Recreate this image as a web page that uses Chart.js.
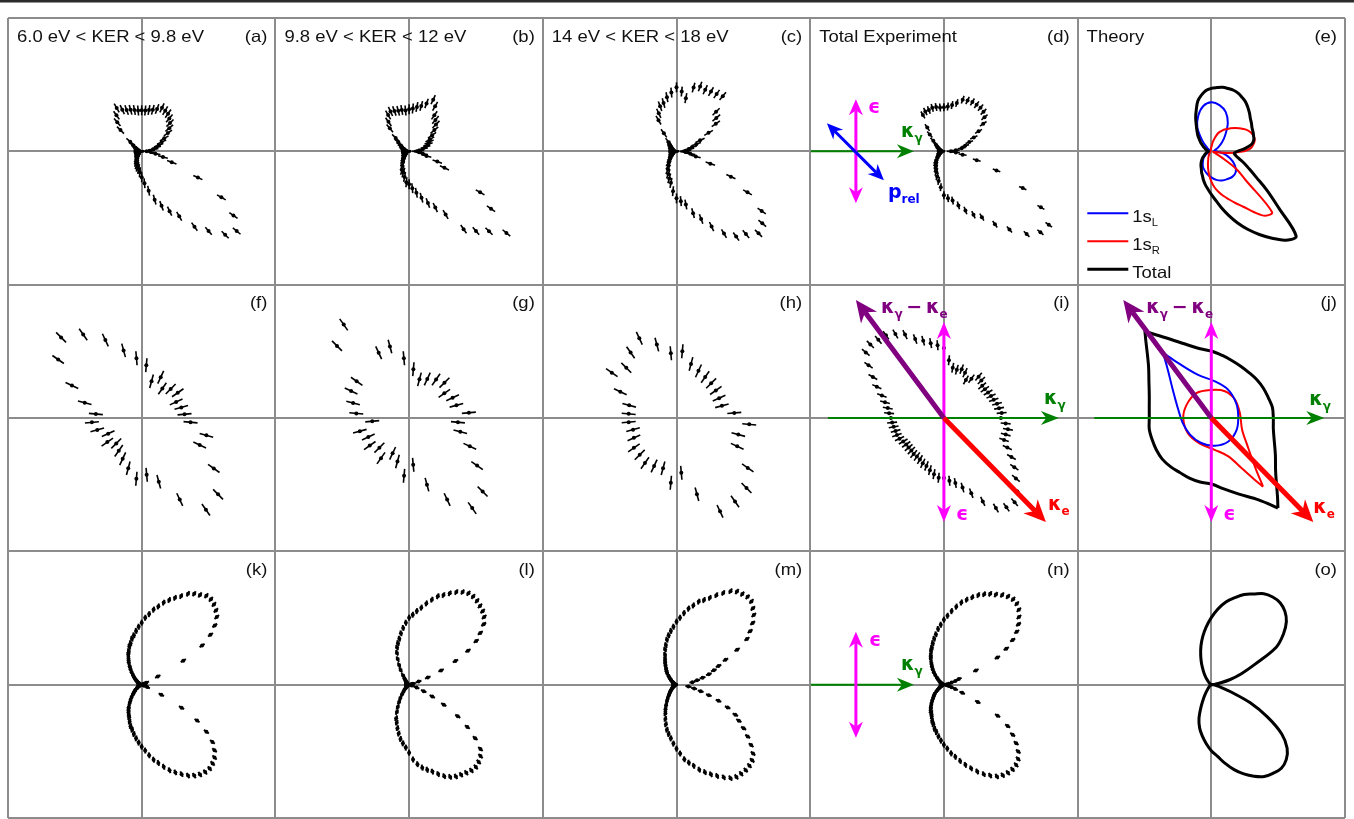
<!DOCTYPE html>
<html>
<head>
<meta charset="utf-8">
<script src="https://cdn.jsdelivr.net/npm/chart.js@4.4.0/dist/chart.umd.min.js"></script>
<style>
  html, body { margin: 0; padding: 0; background: #fff; overflow: hidden; }
  #fig { display: block; width: 1354px; height: 819px; }
</style>
</head>
<body>
<canvas id="fig" width="1354" height="819"></canvas>
<script>
// Angles in degrees, counter-clockwise from the +x direction (photon axis)
const anglesFine = [0,5,10,15,20,25,30,35,40,45,50,55,60,65,70,75,80,85,90,95,100,105,110,115,120,125,130,135,140,145,150,155,160,165,170,175,
  180,185,190,195,200,205,210,215,220,225,230,235,240,245,250,255,260,265,270,275,280,285,290,295,300,305,310,315,320,325,330,335,340,345,350,355];
const anglesCoarse = [5,15,25,35,45,55,65,75,85,95,105,115,125,135,145,155,165,175,185,195,205,215,225,235,245,255,265,275,285,295,305,315,325,335,345,355];
const angles10 = [0,10,20,30,40,50,60,70,80,90,100,110,120,130,140,150,160,170,180,190,200,210,220,230,240,250,260,270,280,290,300,310,320,330,340,350];
const anglesLobe = [9,12,15,18,21,24,27,30,33,36,39,42,45,48,51,54,57,60,63,66,69,72,75,78,81,84,87,90,93,96,99,102,105,108,111,114,117,120,123,126,129,132,135,138,141,144,147,150,153,156,159,162,165,168,171];

// Row 1 experiment (radius, half panel = 133.5)
const rA = [5,8,12,15,18,22,26,32,36,40,43,46,47,48,45,43,42,41,41,41,42,43,44,46,50,44,38,30,15,10,7,5,4,3,3,3,
  3,3,3,3,3,3,3,4,4,5,6,8,10,12,14,16,18,21,26,32,40,50,58,66,75,92,104,118,124,112,92,62,32,22,14,9];
const rB = [8,10,14,17,20,22,24,28,33,38,41,44,52,57,51,47,45,43,42,41,42,42,43,44,42,36,30,19,14,10,8,6,5,4,3,3,
  3,3,3,3,3,3,4,4,5,6,8,10,12,16,20,22,26,31,33,37,42,48,55,62,73,95,104,113,127,100,82,39,30,18,14,10];
const rC = [8,10,13,16,21,26,37,48,52,56,72,70,69,68,69,66,54,60,64,59,55,50,48,42,36,22,12,9,7,6,5,4,4,3,3,3,
  3,3,3,3,3,4,4,5,6,8,10,13,16,20,24,28,32,40,47,50,54,64,72,83,95,104,108,116,112,104,82,60,36,20,14,9];
const rD = [7,12,18,22,27,33,40,48,53,56,57,57,57,56,55,50,47,45,44,44,45,45,44,44,42,29,22,15,10,8,6,5,4,3,3,3,
  3,3,3,3,4,4,5,6,7,9,12,14,16,19,22,26,30,36,44,47,50,56,63,70,76,89,102,117,126,128,112,87,56,34,19,12];

// Row 2 experiment
const rF = [43,41,38,44,41,36,45,38,53,60,70,86,102,114,102,77,59,46,50,46,37,42,36,40,45,52,61,57,66,90,112,108,88,64,67,49];
const rG = [60,49,48,43,50,47,43,40,49,60,74,72,114,102,64,64,58,53,37,51,45,48,42,49,39,45,58,47,69,90,110,104,83,67,53,49];
const rH = [58,47,47,48,49,50,52,56,67,65,76,88,80,71,79,62,49,48,48,45,47,52,52,55,53,52,65,55,79,103,102,99,87,67,64,73];
const rI = [57,58,56,55,53,52,51,50,50,53,54,48,44,50,52,50,51,58,70,73,76,80,84,92,97,101,102,104,102,92,82,74,66,61,57,55,
  53,52,51,50,50,49,47,46,46,46,47,47,48,50,51,54,57,60,60,63,66,72,80,92,104,109,110,104,94,86,78,70,64,64,65,62];

// Row 3 experiment: upper lobe (+angle) and lower lobe (-angle)
const rKUp   = [2,2,2,2,3,5,18,48,72,85,94,101,105,108,110,110,107,105,102,97,93,89,85,80,76,71,67,62,58,54,50,47,43,40,36,33,29,26,22,19,16,13,11,9,7,6,5,4,3,3,2,2,2,2,2];
const rKDown = [2,2,2,2,3,6,22,46,66,80,91,98,103,106,108,108,107,105,102,98,94,90,85,80,76,71,66,62,58,54,50,46,43,39,35,32,29,26,22,19,16,13,11,9,8,6,5,4,3,3,2,2,2,2,2];
const rLUp   = [2,3,4,10,20,35,52,68,80,88,96,101,104,106,108,109,109,107,104,100,96,93,88,83,78,74,70,67,62,57,52,47,43,39,34,28,22,17,11,8,6,5,4,3,3,3,2,2,2,2,2,2,2,2,2];
const rLDown = [2,2,2,3,8,16,26,40,58,72,85,96,101,104,106,106,105,104,103,101,98,94,90,87,84,80,75,68,63,59,55,50,45,40,36,30,25,20,16,12,9,7,5,4,3,3,2,2,2,2,2,2,2,2,2];
const rMUp   = [16,21,27,34,40,46,55,70,84,91,98,104,108,112,113,112,111,108,103,98,93,89,86,81,77,72,67,63,58,54,50,46,41,37,32,28,25,22,19,17,15,12,10,8,7,5,4,4,3,3,2,2,2,2,2];
const rMDown = [12,18,25,34,45,56,66,72,80,88,96,103,107,109,110,110,110,108,104,100,96,92,88,83,79,75,69,64,59,54,50,46,41,36,31,27,23,19,16,13,11,9,8,6,5,4,4,3,3,2,2,2,2,2,2];
const rNUp   = [3,5,8,12,16,35,60,72,82,90,96,101,106,109,110,109,107,104,102,99,96,92,88,84,79,74,69,65,60,56,51,47,43,39,36,32,29,25,22,19,16,13,10,8,6,5,4,3,3,2,2,2,2,2,2];
const rNDown = [2,3,5,8,12,20,38,62,76,85,93,100,105,108,109,109,108,106,102,98,93,88,83,78,73,69,64,60,56,52,48,45,41,38,34,31,29,26,23,20,17,15,13,10,8,6,5,4,3,3,2,2,2,2,2];

// Theory (e)
const eTotal = [26,34,41,44,45,46,47,49,51,54,57,60,62,64,65,65,65,64,63,61,57,52,44,37,30,25,21,17,14,11,9,7,6,5,4,4,
  3,3,4,5,6,7,8,10,12,14,16,18,20,23,26,30,34,38,43,49,57,66,76,86,96,106,116,120,88,68,52,42,35,29,25,23];
const eRed = [33,40,43,45,45,44,42,39,36,33,30,27,25,22,19,14,10,6,4,3,2,1,1,1,1,1,1,1,1,1,1,1,1,1,1,1,
  1,1,1,1,1,1,1,1,2,2,3,4,5,7,9,13,18,24,30,36,41,46,51,57,64,74,84,86,45,30,11,4,2,2,4,18];
const eBlue = [5,3,4,8,14,22,33,42,47,49,46,38,28,14,5,2,1,1,1,2,3,6,10,13,17,20,23,26,29,31,32,33,32,27,20,12];

// Theory (j), cusp to cusp
const jTotalAng = [-53.5,-50,-40,-30,-20,-10,0,10,20,30,40,50,60,70,80,90,100,110,120,127.5,
  127.5,130,140,150,160,170,180,190,200,210,220,230,240,250,260,270,280,290,300,306.5];
const jTotalR   = [112,103,84,74,67,63,62,62,60.5,60,59.5,59,59.5,61,63.5,67,70.5,79,93,109,
  109,102,82,72,66,63,62,63,63,63.5,64,63.5,63,64,65,66,72,81,94.5,112];
const jBlueAng  = [126.5,121,107,85,60,31,4,-25,-54,-83,-112,-142,-170,-194,-216.5,-228,-233.5];
const jBlueR    = [81,64,45,37,33,29,27,28,29,28,27,27,29,34,48,65,81];
const jRedAng   = [-53,-48,-37,-21,10,38,63,90,121,152,180,213,245,276,294,301,305,307];
const jRedR     = [86,65,45,33,29,30,30,28,29,28,28,28,28,32,42,58,75,86];

// Theory (o)
const oTotal = [0,3,8,19,32,48,75,88,98,104,107,107,105,100,96,90,84,76,67,58,49,40,31,23,16,11,7,4,2,1,0,0,0,0,0,0,
  0,0,0,0,0,0,0,1,2,3,5,9,15,24,36,45,52,59,66,72,80,88,95,101,106,108,109,106,99,86,65,43,20,10,5,2];

const titles = { a: '6.0 eV < KER < 9.8 eV', b: '9.8 eV < KER < 12 eV', c: '14 eV < KER < 18 eV', d: 'Total Experiment', e: 'Theory' };

// panel cell (column, row)
const cells = { a:[0,0], b:[1,0], c:[2,0], d:[3,0], e:[4,0], f:[0,1], g:[1,1], h:[2,1], i:[3,1], j:[4,1], k:[0,2], l:[1,2], m:[2,2], n:[3,2], o:[4,2] };
const PXX = 1337 / 5;   // px per panel width
const PXY = 800 / 3;    // px per panel height

const GREEN = '#008000', MAGENTA = '#ff00ff', BLUE = '#0000ff', PURPLE = '#800080', RED = '#ff0000';

function polar(panel, angles, radii) {
  const [c, r] = cells[panel];
  const cx = c + 0.5, cy = 2.5 - r;
  return angles.map((a, i) => {
    const t = a * Math.PI / 180;
    return { x: cx + radii[i] * Math.cos(t) / PXX, y: cy + radii[i] * Math.sin(t) / PXY, a: a };
  });
}

const datasets = [];

function addTheory(panel, angles, radii, color, width, close) {
  const pts = polar(panel, angles, radii);
  if (close) pts.push(pts[0]);
  datasets.push({ data: pts, showLine: true, pointRadius: 0, borderColor: color, borderWidth: width, tension: 0.35, fill: false, borderJoinStyle: 'round' });
}

function addExperiment(panel, angles, radii, bar, width, dot) {
  const pts = polar(panel, angles, radii);
  datasets.push({
    data: pts, showLine: false, pointStyle: 'line', pointRadius: bar, pointBorderWidth: width,
    pointBorderColor: '#000', pointBackgroundColor: '#000',
    pointRotation: c => (c.raw ? -c.raw.a : 0)
  });
  datasets.push({ data: pts, showLine: false, pointStyle: 'circle', pointRadius: dot, pointBorderWidth: 0, pointBackgroundColor: '#000' });
}

const anglesLobeDown = anglesLobe.map(a => -a);

addTheory('e', anglesFine, eTotal, '#000', 3, true);
addTheory('e', anglesFine, eRed, RED, 2, true);
addTheory('e', angles10, eBlue, BLUE, 2, true);
addTheory('j', jTotalAng, jTotalR, '#000', 3, false);
addTheory('j', jBlueAng, jBlueR, BLUE, 2, false);
addTheory('j', jRedAng, jRedR, RED, 2, false);
addTheory('o', anglesFine, oTotal, '#000', 3, true);

addExperiment('a', anglesFine, rA, 5, 1.6, 2);
addExperiment('b', anglesFine, rB, 5, 1.6, 2);
addExperiment('c', anglesFine, rC, 5, 1.6, 2);
addExperiment('d', anglesFine, rD, 4, 1.6, 2);
addExperiment('f', anglesCoarse, rF, 7, 1.6, 2);
addExperiment('g', anglesCoarse, rG, 7, 1.6, 2);
addExperiment('h', anglesCoarse, rH, 7, 1.6, 2);
addExperiment('i', anglesFine, rI, 5, 1.6, 2);
addExperiment('k', anglesLobe, rKUp, 3, 2, 2);
addExperiment('k', anglesLobeDown, rKDown, 3, 2, 2);
addExperiment('l', anglesLobe, rLUp, 3, 2, 2);
addExperiment('l', anglesLobeDown, rLDown, 3, 2, 2);
addExperiment('m', anglesLobe, rMUp, 3, 2, 2);
addExperiment('m', anglesLobeDown, rMDown, 3, 2, 2);
addExperiment('n', anglesLobe, rNUp, 3, 2, 2);
addExperiment('n', anglesLobeDown, rNDown, 3, 2, 2);

// Arrows (offsets from panel centre in px, y up)
const arrowSpecs = [
  { p: 'd', from: [-133, 0], to: [-30, 0], color: GREEN, w: 2, L: 17, hw: 7, both: false },
  { p: 'd', from: [-88, -52], to: [-88, 52], color: MAGENTA, w: 3, L: 16, hw: 7, both: true },
  { p: 'd', from: [-117, 28], to: [-60, -29], color: BLUE, w: 3, L: 16, hw: 7, both: true },
  { p: 'i', from: [-116, 0], to: [115, 0], color: GREEN, w: 2, L: 18, hw: 7, both: false },
  { p: 'i', from: [0, -104], to: [0, 96], color: MAGENTA, w: 3, L: 17, hw: 7, both: true },
  { p: 'i', from: [0, 0], to: [-88, 118], color: PURPLE, w: 5, L: 22, hw: 10, both: false },
  { p: 'i', from: [0, 0], to: [102, -104], color: RED, w: 5, L: 22, hw: 10, both: false },
  { p: 'j', from: [-117, 0], to: [113, 0], color: GREEN, w: 2, L: 18, hw: 7, both: false },
  { p: 'j', from: [0, -104], to: [0, 96], color: MAGENTA, w: 3, L: 17, hw: 7, both: true },
  { p: 'j', from: [0, 0], to: [-88, 118], color: PURPLE, w: 5, L: 22, hw: 10, both: false },
  { p: 'j', from: [0, 0], to: [102, -104], color: RED, w: 5, L: 22, hw: 10, both: false },
  { p: 'n', from: [-133, 0], to: [-30, 0], color: GREEN, w: 2, L: 17, hw: 7, both: false },
  { p: 'n', from: [-88, -53], to: [-88, 53], color: MAGENTA, w: 3, L: 16, hw: 7, both: true }
];

const KG = [['κ', 0], ['γ', 1]];
const KE = [['κ', 0], ['e', 1]];
const KGKE = [['κ', 0], ['γ', 1], ['\u2009−\u2009', 0], ['κ', 0], ['e', 1]];
const labelSpecs = [
  { p: 'd', at: [-76, 38], parts: [['ϵ', 0]], color: MAGENTA },
  { p: 'd', at: [-43, 14], parts: KG, color: GREEN },
  { p: 'd', at: [-56, -47], parts: [['p', 0], ['rel', 1]], color: BLUE },
  { p: 'i', at: [-63, 105], parts: KGKE, color: PURPLE },
  { p: 'i', at: [100, 14], parts: KG, color: GREEN },
  { p: 'i', at: [104, -92], parts: KE, color: RED },
  { p: 'i', at: [12, -102], parts: [['ϵ', 0]], color: MAGENTA },
  { p: 'j', at: [-65, 105], parts: KGKE, color: PURPLE },
  { p: 'j', at: [98, 13], parts: KG, color: GREEN },
  { p: 'j', at: [102, -95], parts: KE, color: RED },
  { p: 'j', at: [12, -102], parts: [['ϵ', 0]], color: MAGENTA },
  { p: 'n', at: [-75, 39], parts: [['ϵ', 0]], color: MAGENTA },
  { p: 'n', at: [-43, 15], parts: KG, color: GREEN }
];

const legendRows = [
  { dy: -62, color: BLUE, w: 2, parts: [['1s', 0], ['L', 1]] },
  { dy: -90, color: RED, w: 2, parts: [['1s', 0], ['R', 1]] },
  { dy: -118, color: '#000', w: 3, parts: [['Total', 0]] }
];

const SANS = '"Liberation Sans", Arial, sans-serif';
const GREEK = '"DejaVu Sans", sans-serif';

function rich(ctx, x, y, parts, o) {
  ctx.save();
  ctx.translate(x, y);
  ctx.scale(o.stretch || 1, 1);
  ctx.fillStyle = o.color;
  ctx.textAlign = 'left';
  ctx.textBaseline = 'alphabetic';
  let cx = 0;
  for (const [t, sub] of parts) {
    ctx.font = (o.weight || 'normal') + ' ' + (sub ? o.sub : o.size) + 'px ' + o.family;
    ctx.fillText(t, cx, sub ? o.drop : 0);
    cx += ctx.measureText(t).width;
  }
  ctx.restore();
}

function arrowHead(ctx, x, y, ang, L, hw) {
  const ux = Math.cos(ang), uy = Math.sin(ang);
  const bx = x - ux * L, by = y - uy * L;
  const nx = x - ux * L * 0.7, ny = y - uy * L * 0.7;
  ctx.beginPath();
  ctx.moveTo(x, y);
  ctx.lineTo(bx - uy * hw, by + ux * hw);
  ctx.lineTo(nx, ny);
  ctx.lineTo(bx + uy * hw, by - ux * hw);
  ctx.closePath();
  ctx.fill();
}

const decor = {
  id: 'decor',
  beforeDraw(chart) {
    const ctx = chart.ctx;
    ctx.save();
    ctx.fillStyle = '#fff';
    ctx.fillRect(0, 0, chart.width, chart.height);
    ctx.fillStyle = '#2b2b2b';
    ctx.fillRect(0, 0, chart.width, 2.5);
    ctx.restore();
  },
  afterDatasetsDraw(chart) {
    const ctx = chart.ctx;
    const xs = chart.scales.x, ys = chart.scales.y;
    const at = (p, dx, dy) => {
      const [c, r] = cells[p];
      return [xs.getPixelForValue(c + 0.5 + dx / PXX), ys.getPixelForValue(2.5 - r + dy / PXY)];
    };
    ctx.save();

    // arrows
    arrowSpecs.forEach(s => {
      const [x1, y1] = at(s.p, s.from[0], s.from[1]);
      const [x2, y2] = at(s.p, s.to[0], s.to[1]);
      const ang = Math.atan2(y2 - y1, x2 - x1);
      const ux = Math.cos(ang), uy = Math.sin(ang);
      ctx.strokeStyle = s.color;
      ctx.fillStyle = s.color;
      ctx.lineWidth = s.w;
      ctx.lineCap = 'butt';
      const sx = s.both ? x1 + ux * s.L * 0.7 : x1, sy = s.both ? y1 + uy * s.L * 0.7 : y1;
      ctx.beginPath();
      ctx.moveTo(sx, sy);
      ctx.lineTo(x2 - ux * s.L * 0.7, y2 - uy * s.L * 0.7);
      ctx.stroke();
      arrowHead(ctx, x2, y2, ang, s.L, s.hw);
      if (s.both) arrowHead(ctx, x1, y1, ang + Math.PI, s.L, s.hw);
    });

    // arrow labels
    labelSpecs.forEach(s => {
      const [x, y] = at(s.p, s.at[0], s.at[1]);
      rich(ctx, x, y, s.parts, { color: s.color, size: 19, sub: 12, drop: 5, weight: 'bold', family: GREEK });
    });

    // legend of panel (e)
    legendRows.forEach(row => {
      const [x1, y1] = at('e', -124, row.dy);
      const [x2] = at('e', -83, row.dy);
      ctx.strokeStyle = row.color;
      ctx.lineWidth = row.w;
      ctx.beginPath();
      ctx.moveTo(x1, y1);
      ctx.lineTo(x2, y1);
      ctx.stroke();
      const [tx, ty] = at('e', -79, row.dy - 9);
      rich(ctx, tx, ty, row.parts, { color: '#111', size: 16.5, sub: 10, drop: 4, family: SANS, stretch: 1.12 });
    });

    // titles and panel letters
    Object.keys(cells).forEach(p => {
      const [c, r] = cells[p];
      const left = xs.getPixelForValue(c), right = xs.getPixelForValue(c + 1);
      const top = ys.getPixelForValue(3 - r);
      if (titles[p]) {
        rich(ctx, left + 9, top + 23.5, [[titles[p], 0]], { color: '#111', size: 16.5, family: SANS, stretch: 1.12 });
      }
      ctx.font = '16.5px ' + SANS;
      const w = ctx.measureText('(' + p + ')').width * 1.12;
      rich(ctx, right - 8 - w, top + 23.5, [['(' + p + ')', 0]], { color: '#111', size: 16.5, family: SANS, stretch: 1.12 });
    });
    ctx.restore();
  }
};

new Chart(document.getElementById('fig'), {
  type: 'scatter',
  data: { datasets: datasets },
  options: {
    responsive: false,
    animation: false,
    devicePixelRatio: 1,
    events: [],
    layout: { autoPadding: false, padding: { left: 8, top: 18, right: 9, bottom: 1 } },
    plugins: { legend: { display: false }, tooltip: { enabled: false } },
    scales: {
      x: {
        type: 'linear', min: 0, max: 5,
        ticks: { stepSize: 0.5, display: false },
        grid: { color: '#8c8c8c', lineWidth: 2, drawTicks: false },
        border: { display: false }
      },
      y: {
        type: 'linear', min: 0, max: 3,
        ticks: { stepSize: 0.5, display: false },
        grid: { color: '#8c8c8c', lineWidth: 2, drawTicks: false },
        border: { display: false }
      }
    }
  },
  plugins: [decor]
});
</script>
</body>
</html>
